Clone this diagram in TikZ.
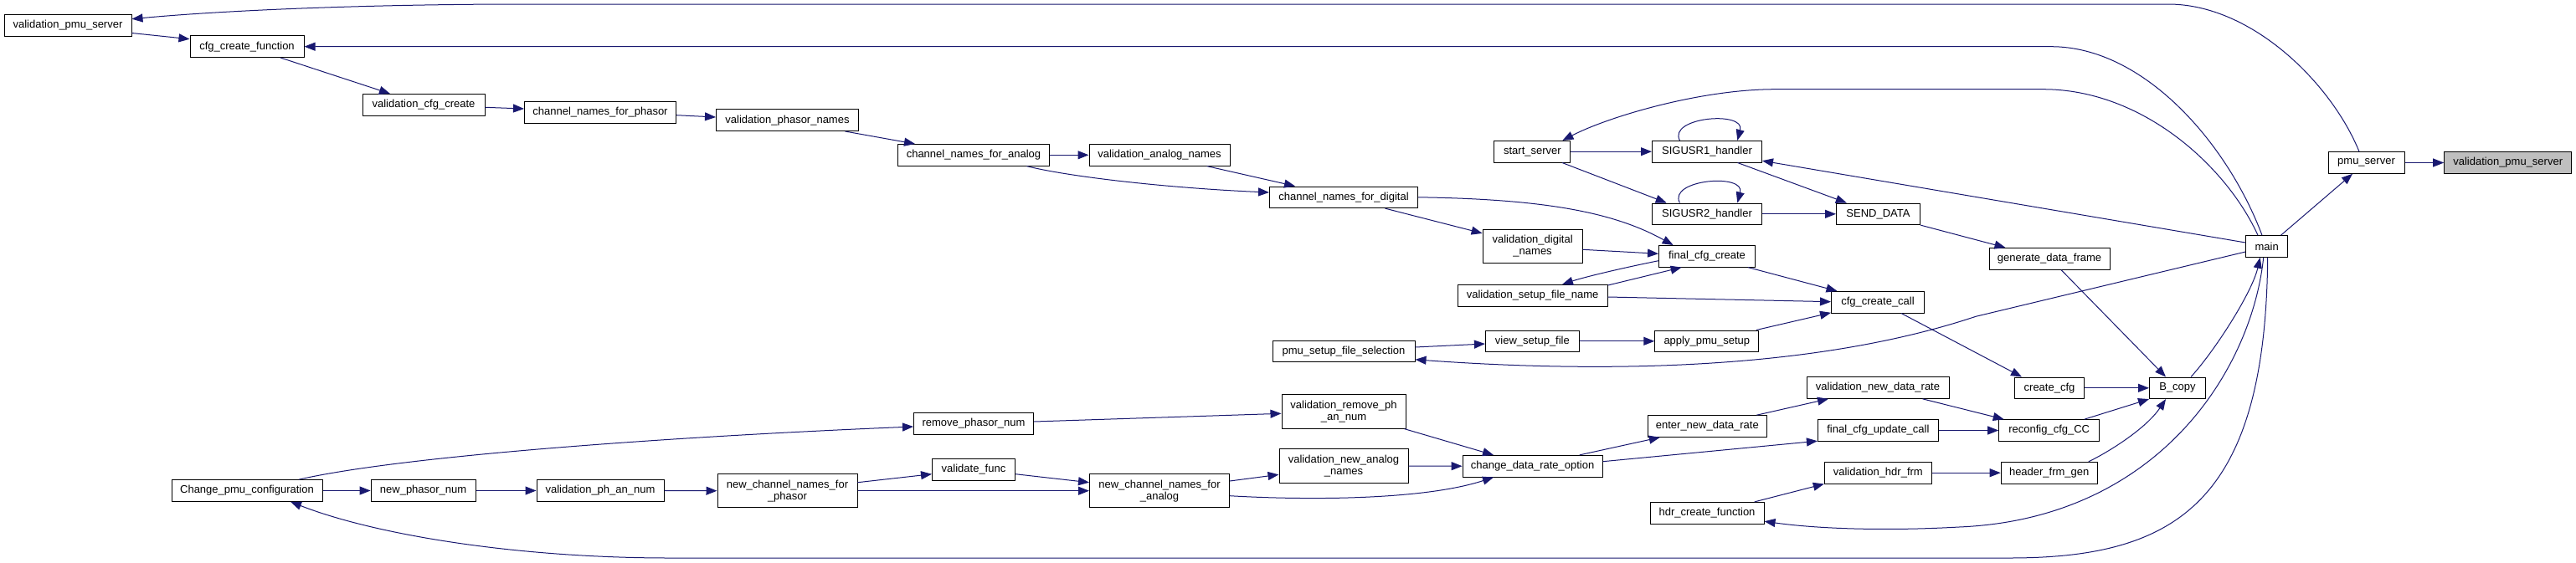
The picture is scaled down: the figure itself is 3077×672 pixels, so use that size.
\documentclass[tikz,border=0pt]{standalone}
\usepackage{fontspec}
\setmainfont{Liberation Sans}
\usetikzlibrary{arrows.meta,calc}
\definecolor{dblue}{HTML}{191970}
\definecolor{hgrey}{HTML}{BFBFBF}
\begin{document}
\begin{tikzpicture}[x=0.75pt,y=-0.75pt,
  box/.style={draw=black, fill=white, line width=0.75pt, inner sep=0pt, minimum height=19.2pt, font=\fontsize{9.75}{10.5}\selectfont, align=center},
  box2/.style={box, minimum height=30.2pt},
  edge/.style={draw=dblue, line width=0.75pt, -{Triangle[length=9.75pt,width=7.5pt]}}]
\useasboundingbox[fill=white] (0,0) rectangle (3077,672);
% nodes
\node[box, minimum width=114pt] (vpsl) at (81,30.5) {validation\_pmu\_server};
\node[box, minimum width=102pt] (cfgf) at (295,55.7) {cfg\_create\_function};
\node[box, minimum width=109.5pt] (vcc) at (506,125.3) {validation\_cfg\_create};
\node[box, minimum width=135.75pt] (cnp) at (717,134.3) {channel\_names\_for\_phasor};
\node[box, minimum width=127.5pt] (vpn) at (940.5,143.7) {validation\_phasor\_names};
\node[box, minimum width=135.75pt] (cna) at (1163,185.3) {channel\_names\_for\_analog};
\node[box, minimum width=126pt] (van) at (1385,185.3) {validation\_analog\_names};
\node[box, minimum width=132.75pt] (cnd) at (1605,235.8) {channel\_names\_for\_digital};
\node[box, minimum width=68.25pt] (ss) at (1830.4,181.2) {start\_server};
\node[box, minimum width=98.25pt] (s1) at (2039,181.2) {SIGUSR1\_handler};
\node[box, minimum width=98.25pt] (s2) at (2039,255.8) {SIGUSR2\_handler};
\node[box, minimum width=75pt] (sd) at (2243.5,255.8) {SEND\_DATA};
\node[box2, minimum width=89.25pt] (vdn) at (1830.6,294.5) {validation\_digital\\\_names};
\node[box, minimum width=86.25pt] (fcc) at (2039,306.3) {final\_cfg\_create};
\node[box, minimum width=134.25pt] (vsfn) at (1830.6,353.3) {validation\_setup\_file\_name};
\node[box, minimum width=83.25pt] (ccc) at (2243,361.2) {cfg\_create\_call};
\node[box, minimum width=127.5pt] (psfs) at (1605,419.8) {pmu\_setup\_file\_selection};
\node[box, minimum width=84pt] (vsf) at (1830.4,407.8) {view\_setup\_file};
\node[box, minimum width=93pt] (aps) at (2038.8,407.8) {apply\_pmu\_setup};
\node[box, minimum width=127.5pt] (vndr) at (2243,463.5) {validation\_new\_data\_rate};
\node[box2, minimum width=111pt] (vrpan) at (1605,492) {validation\_remove\_ph\\\_an\_num};
\node[box, minimum width=106.5pt] (endr) at (2039.3,509.5) {enter\_new\_data\_rate};
\node[box, minimum width=108pt] (fcuc) at (2243.4,514.5) {final\_cfg\_update\_call};
\node[box2, minimum width=115.5pt] (vnan) at (1605,557) {validation\_new\_analog\\\_names};
\node[box, minimum width=125.25pt] (cdro) at (1830.6,557.2) {change\_data\_rate\_option};
\node[box, minimum width=96pt] (vhf) at (2243.3,565.2) {validation\_hdr\_frm};
\node[box, minimum width=102pt] (hcf) at (2039,613.2) {hdr\_create\_function};
\node[box, minimum width=107.25pt] (rpn) at (1163,506.3) {remove\_phasor\_num};
\node[box, minimum width=74.25pt] (vf) at (1163,561.5) {validate\_func};
\node[box2, minimum width=125.25pt] (ncnp) at (940.5,586.7) {new\_channel\_names\_for\\\_phasor};
\node[box2, minimum width=125.25pt] (ncna) at (1385,586.7) {new\_channel\_names\_for\\\_analog};
\node[box, minimum width=135pt] (cpc) at (295,586.5) {Change\_pmu\_configuration};
\node[box, minimum width=93.75pt] (npn) at (505.6,586.5) {new\_phasor\_num};
\node[box, minimum width=114pt] (vpan) at (717,586.5) {validation\_ph\_an\_num};
\node[box, minimum width=108pt] (gdf) at (2448,309.3) {generate\_data\_frame};
\node[box, minimum width=37.5pt] (main) at (2707.7,294.5) {main};
\node[box, minimum width=68.25pt] (ps) at (2826.5,194.5) {pmu\_server};
\node[box, minimum width=114pt, fill=hgrey] (vpsr) at (2995.7,194.5) {validation\_pmu\_server};
\node[box, minimum width=62.25pt] (ccfg) at (2448,463.8) {create\_cfg};
\node[box, minimum width=50.25pt] (bc) at (2601,463.8) {B\_copy};
\node[box, minimum width=90pt] (rcc) at (2447.7,514.5) {reconfig\_cfg\_CC};
\node[box, minimum width=86.25pt] (hfg) at (2447.7,565.2) {header\_frm\_gen};
% edges
\draw[edge] ($(ps.north)+(-8.5,0)$) .. controls (2785,100) and (2690,5) .. (2590,5) -- (600,5) .. controls (400,6) and (250,14) .. ($(vpsl.east)+(0,-7.8)$);
\draw[edge] ($(vpsl.east)+(0,9)$) -- ($(cfgf.west)+(0,-9)$);
\draw[edge] ($(main.north)+(-5.7,0)$) .. controls (2660,170) and (2560,55.7) .. (2450,55.7) -- (cfgf.east);
\draw[edge] ($(main.north)+(-10.7,0)$) .. controls (2660,200) and (2560,106.7) .. (2440,106.7) -- (2121,106.7) .. controls (2030,106.7) and (1920,140) .. ($(ss.north)+(36,0)$);
\draw[edge] ($(main.west)+(0,-4.5)$) -- ($(s1.south east)+(0,-2.3)$);
\draw[edge] ($(main.west)+(0,6.5)$) -- (2360,378.3) .. controls (2160,445) and (1900,445) .. ($(psfs.east)+(0,10)$);
\draw[edge] ($(main.north)+(16.8,0)$) -- ($(ps.south)+(-16.5,0)$);
\draw[edge] (ps.east) -- (vpsr.west);
\draw[edge] ($(bc.north)+(16,0)$) .. controls (2645,420) and (2690,350) .. ($(main.south)+(-8,0)$);
\draw[edge] ($(main.south)+(-4,0)$) .. controls (2690,440) and (2580,620) .. (2340,630) .. controls (2250,635) and (2170,632) .. ($(hcf.east)+(0,10)$);
\draw[edge] ($(main.south)+(1,0)$) .. controls (2706,600) and (2600,667) .. (2400,667) -- (800,667) .. controls (620,667) and (450,640) .. ($(cpc.south)+(52,0)$);
\draw[edge] (sd.south east) -- ($(gdf.north west)+(20,0)$);
\draw[edge] ($(gdf.south)+(14,0)$) -- ($(bc.north)+(-14,0)$);
\draw[edge] ($(ccc.south)+(28,0)$) -- ($(ccfg.north)+(-33,0)$);
\draw[edge] (ccfg.east) -- (bc.west);
\draw[edge] ($(rcc.north)+(42,0)$) -- (bc.south west);
\draw[edge] ($(hfg.north)+(47,0)$) .. controls (2525,537) and (2565,510) .. ($(bc.south)+(-14,0)$);
\draw[edge] ($(vndr.south)+(53.5,0)$) -- ($(rcc.north west)+(6.5,0)$);
\draw[edge] (fcuc.east) -- (rcc.west);
\draw[edge] (vhf.east) -- (hfg.west);
\draw[edge] ($(hcf.north)+(56.7,0)$) -- (vhf.south west);
\draw[edge] ($(endr.north)+(59,0)$) -- ($(vndr.south west)+(26.5,0)$);
\draw[edge] ($(cdro.north)+(56,0)$) -- ($(endr.south west)+(15,0)$);
\draw[edge] ($(cdro.east)+(0,-5.5)$) -- ($(fcuc.south west)+(0,-0.6)$);
\draw[edge] ($(vrpan.south east)+(-2,0)$) -- ($(cdro.north west)+(37.4,0)$);
\draw[edge] (vnan.east) -- (cdro.west);
\draw[edge] ($(ncna.east)+(0,6)$) .. controls (1560,598) and (1700,598) .. ($(cdro.south west)+(37.4,0)$);
\draw[edge] ($(ncna.east)+(0,-11.7)$) -- ($(vnan.west)+(0,10.3)$);
\draw[edge] ($(vf.east)+(0,5.2)$) -- ($(ncna.west)+(0,-10)$);
\draw[edge] ($(ncnp.east)+(0,-10)$) -- ($(vf.west)+(0,5.2)$);
\draw[edge] (ncnp.east) -- (ncna.west);
\draw[edge] (vpan.east) -- (ncnp.west);
\draw[edge] (npn.east) -- (vpan.west);
\draw[edge] (cpc.east) -- (npn.west);
\draw[edge] ($(cpc.north)+(62,0)$) .. controls (480,545) and (800,522) .. ($(rpn.west)+(0,3.7)$);
\draw[edge] ($(rpn.east)+(0,-2.3)$) -- ($(vrpan.west)+(0,2.3)$);
\draw[edge] ($(cfgf.south)+(40,0)$) -- ($(vcc.north)+(-40,0)$);
\draw[edge] ($(vcc.east)+(0,3)$) -- ($(cnp.west)+(0,-4.3)$);
\draw[edge] ($(cnp.east)+(0,3.4)$) -- ($(vpn.west)+(0,-3.7)$);
\draw[edge] ($(vpn.south)+(69,0)$) -- ($(cna.north west)+(21,0)$);
\draw[edge] (cna.east) -- (van.west);
\draw[edge] ($(van.south)+(56.7,0)$) -- ($(cnd.north west)+(31,0)$);
\draw[edge] ($(cna.south)+(63.4,0)$) .. controls (1280,212) and (1400,225) .. ($(cnd.west)+(0,-5.8)$);
\draw[edge] ($(cnd.south)+(49.4,0)$) -- ($(vdn.north west)+(0,5)$);
\draw[edge] (cnd.east) .. controls (1850,238) and (1930,255) .. ($(fcc.north west)+(17.6,0)$);
\draw[edge] ($(vdn.east)+(0,3.8)$) -- ($(fcc.west)+(0,-3)$);
\draw[edge] ($(fcc.west)+(0,5.4)$) .. controls (1930,322) and (1890,332) .. ($(vsfn.north)+(35.4,0)$);
\draw[edge] ($(vsfn.north east)+(0,1)$) -- ($(fcc.south west)+(27.6,0)$);
\draw[edge] ($(fcc.south)+(49,0)$) -- ($(ccc.north west)+(7.5,0)$);
\draw[edge] ($(vsfn.east)+(0,1.7)$) -- ($(ccc.west)+(0,-0.5)$);
\draw[edge] ($(aps.north)+(59,0)$) -- ($(ccc.south west)+(0,-0.7)$);
\draw[edge] (vsf.east) -- (aps.west);
\draw[edge] ($(psfs.east)+(0,-4.8)$) -- ($(vsf.west)+(0,3.2)$);
\draw[edge] (ss.east) -- (s1.west);
\draw[edge] ($(ss.south)+(35.6,0)$) -- ($(s2.north west)+(17.7,0)$);
\draw[edge] ($(s1.north)+(-32.6,0)$) .. controls (1992,140) and (2085,132) .. ($(s1.north)+(36.3,0)$);
\draw[edge] ($(s2.north)+(-32.6,0)$) .. controls (1992,214.6) and (2085,206.6) .. ($(s2.north)+(36.3,0)$);
\draw[edge] ($(s1.south)+(36.5,0)$) -- ($(sd.north west)+(12.8,0)$);
\draw[edge] (s2.east) -- (sd.west);
\end{tikzpicture}
\end{document}
